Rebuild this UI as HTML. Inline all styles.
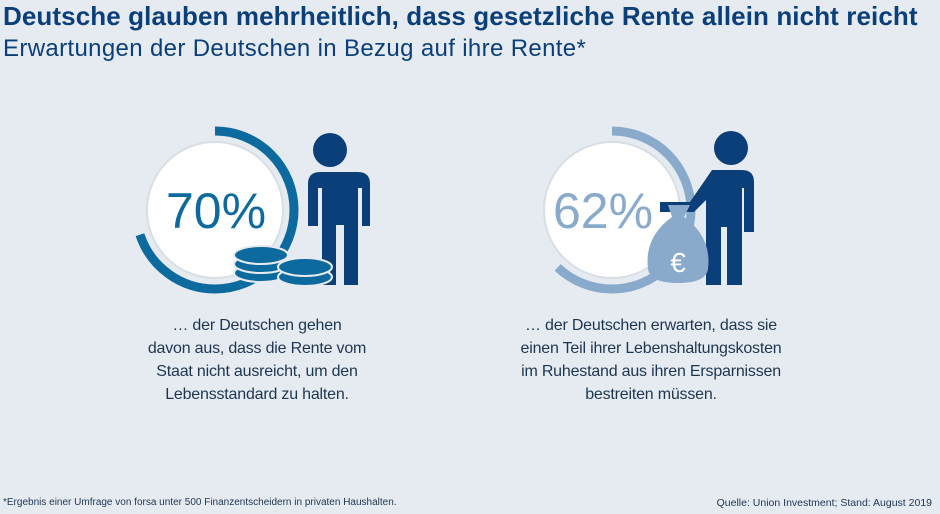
<!DOCTYPE html>
<html><head><meta charset="utf-8"><style>
body{margin:0;width:940px;height:514px;background:#e6ebf2;font-family:"Liberation Sans",sans-serif;overflow:hidden;position:relative}
.t{position:absolute;white-space:nowrap}
.cap{position:absolute;text-align:center;font-size:16px;line-height:23px;color:#1e3550;width:320px;letter-spacing:-0.2px}
</style></head><body>
<div class="t" style="left:3px;top:1px;font-size:26px;font-weight:bold;color:#0a3f7a;letter-spacing:0.1px">Deutsche glauben mehrheitlich, dass gesetzliche Rente allein nicht reicht</div>
<div class="t" style="left:3px;top:35px;font-size:24px;color:#0a3f7a;letter-spacing:0.35px">Erwartungen der Deutschen in Bezug auf ihre Rente*</div>
<svg width="940" height="514" style="position:absolute;left:0;top:0">
<circle cx="215" cy="210" r="68" fill="#fff" stroke="#d8dee6" stroke-width="2"/>
<circle cx="215" cy="210" r="79" fill="none" stroke="#0c6a9e" stroke-width="9" stroke-dasharray="347 500" transform="rotate(-90 215 210)"/>
<text x="216" y="228" font-size="50" font-family="Liberation Sans" fill="#0c6a9e" text-anchor="middle">70%</text>
<circle cx="330" cy="150" r="17" fill="#0a3f7a"/>
<path d="M300 172 h58 q12 0 12 12 v42 h-8 v-38 h-4 v97 h-14 v-60 h-8 v60 h-14 v-97 h-4 v38 h-10 v-42 q0-12 12-12z" fill="#0a3f7a"/>
<g fill="#0c6a9e" stroke="#e6ebf2" stroke-width="2">
<ellipse cx="261" cy="273" rx="27" ry="9"/><ellipse cx="261" cy="264" rx="27" ry="9"/><ellipse cx="261" cy="255" rx="27" ry="9"/>
<ellipse cx="305" cy="277" rx="27" ry="9"/><ellipse cx="305" cy="267" rx="27" ry="9"/>
</g>
<circle cx="612" cy="210" r="68" fill="#fff" stroke="#d8dee6" stroke-width="2"/>
<circle cx="612" cy="210" r="79" fill="none" stroke="#8aaacb" stroke-width="9" stroke-dasharray="308 500" transform="rotate(-90 612 210)"/>
<text x="603" y="228" font-size="50" font-family="Liberation Sans" fill="#8aaacb" text-anchor="middle">62%</text>
<circle cx="731" cy="148" r="17" fill="#0a3f7a"/>
<path d="M712 170 h30 q12 0 12 12 v50 h-10 v-44 h-2 v97 h-15 v-58 h-6 v58 h-15 v-85 l-12 12 h-34 v-10 h30 z" fill="#0a3f7a"/>
<path d="M668 205 h22 l-6 12 q28 20 24 52 q-2 14 -30 14 q-28 0 -30 -14 q-4 -32 24 -52z" fill="#8aaacb"/>
<text x="678" y="272" font-size="28" font-family="Liberation Sans" fill="#fff" text-anchor="middle">€</text>
</svg>
<div class="cap" style="left:97px;top:314px">… der Deutschen gehen<br>davon aus, dass die Rente vom<br>Staat nicht ausreicht, um den<br>Lebensstandard zu halten.</div>
<div class="cap" style="left:491px;top:314px">… der Deutschen erwarten, dass sie<br>einen Teil ihrer Lebenshaltungskosten<br>im Ruhestand aus ihren Ersparnissen<br>bestreiten müssen.</div>
<div class="t" style="left:3px;top:497px;font-size:10px;color:#1e3550">*Ergebnis einer Umfrage von forsa unter 500 Finanzentscheidern in privaten Haushalten.</div>
<div class="t" style="right:8px;top:497px;font-size:10.5px;color:#1e3550">Quelle: Union Investment; Stand: August 2019</div>
</body></html>
